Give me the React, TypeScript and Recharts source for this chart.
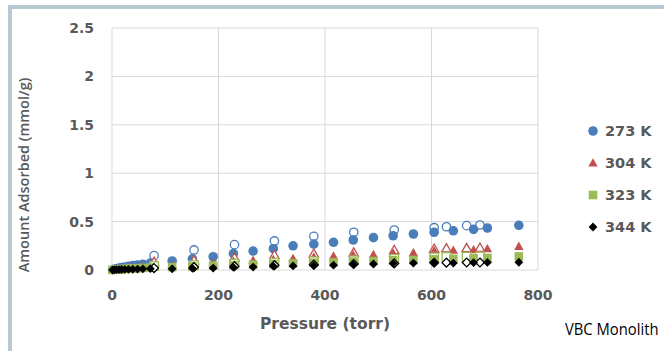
import { ScatterChart, Scatter, XAxis, YAxis, CartesianGrid, Legend, Label } from "recharts";

// adsorption branch (filled markers)
const adsPressure = [1, 4, 8, 13, 18, 24, 31, 39, 48, 58, 72, 113, 151, 190, 228, 265, 303, 340, 379, 416, 453, 491, 528, 566, 605, 641, 679, 705, 764];
const ads273 = [0.003, 0.008, 0.013, 0.019, 0.025, 0.031, 0.038, 0.045, 0.052, 0.06, 0.072, 0.093, 0.115, 0.137, 0.17, 0.196, 0.22, 0.25, 0.268, 0.286, 0.31, 0.334, 0.354, 0.372, 0.39, 0.405, 0.42, 0.434, 0.462];
const ads304 = [0.002, 0.005, 0.008, 0.012, 0.015, 0.018, 0.022, 0.026, 0.03, 0.035, 0.04, 0.05, 0.065, 0.075, 0.09, 0.1, 0.11, 0.12, 0.135, 0.145, 0.155, 0.16, 0.175, 0.18, 0.2, 0.205, 0.21, 0.22, 0.245];
const ads323 = [0.001, 0.003, 0.005, 0.007, 0.009, 0.011, 0.013, 0.015, 0.018, 0.021, 0.025, 0.03, 0.038, 0.045, 0.05, 0.055, 0.062, 0.068, 0.075, 0.08, 0.087, 0.092, 0.1, 0.103, 0.11, 0.115, 0.12, 0.125, 0.14];
const ads344 = [0.001, 0.002, 0.003, 0.004, 0.005, 0.006, 0.007, 0.008, 0.01, 0.012, 0.014, 0.012, 0.017, 0.02, 0.028, 0.03, 0.04, 0.042, 0.045, 0.05, 0.058, 0.062, 0.068, 0.072, 0.075, 0.072, 0.076, 0.078, 0.08];

// desorption branch (open markers)
const desPressure = [79, 154, 230, 305, 379, 454, 530, 605, 628, 666, 691];
const des273 = [0.148, 0.207, 0.262, 0.3, 0.348, 0.39, 0.413, 0.437, 0.447, 0.458, 0.465];
const des304 = [0.085, 0.1, 0.13, 0.155, 0.17, 0.18, 0.207, 0.22, 0.224, 0.226, 0.23];
const des323 = [0.04, 0.05, 0.065, 0.075, 0.09, 0.1, 0.115, 0.13, 0.135, 0.138, 0.14];
const des344 = [0.02, 0.03, 0.04, 0.05, 0.055, 0.062, 0.068, 0.075, 0.076, 0.077, 0.078];

const xTicks = [0, 200, 400, 600, 800];
const yTicks = [0, 0.5, 1, 1.5, 2, 2.5];

const BLUE = "#4a7ebb";
const RED = "#c0504d";
const GREEN = "#9bbb59";
const BLACK = "#000000";
const GRAY = "#595959";
const FONT = "'Open Sans', sans-serif";
const BOLD_FONT = "'DejaVu Sans', sans-serif";

const toPoints = (p: number[], v: number[]) => p.map((x, i) => ({ x, y: v[i] }));

type Kind = "circle" | "triangle" | "square" | "diamond";

const marker = (kind: Kind, color: string, open: boolean) => (props: any) => {
  const { cx, cy } = props;
  const fill = open ? "#ffffff" : color;
  const sw = open ? 1.3 : 0;
  if (kind === "circle") return <circle cx={cx} cy={cy} r={open ? 4.2 : 4.8} fill={fill} stroke={color} strokeWidth={sw} />;
  if (kind === "triangle")
    return <polygon points={`${cx},${cy - 4.7} ${cx + 4.7},${cy + 3.6} ${cx - 4.7},${cy + 3.6}`} fill={fill} stroke={color} strokeWidth={sw} />;
  if (kind === "square") return <rect x={cx - 4.3} y={cy - 4.3} width={8.6} height={8.6} fill={fill} stroke={color} strokeWidth={sw} />;
  return <polygon points={`${cx},${cy - 4.4} ${cx + 4.4},${cy} ${cx},${cy + 4.4} ${cx - 4.4},${cy}`} fill={fill} stroke={color} strokeWidth={sw} />;
};

const legendItems: { label: string; kind: Kind; color: string }[] = [
  { label: "273 K", kind: "circle", color: BLUE },
  { label: "304 K", kind: "triangle", color: RED },
  { label: "323 K", kind: "square", color: GREEN },
  { label: "344 K", kind: "diamond", color: BLACK },
];

const LegendBox = () => (
  <div style={{ fontFamily: BOLD_FONT }}>
    {legendItems.map((it) => (
      <div key={it.label} style={{ display: "flex", alignItems: "center", height: 32 }}>
        <svg width={14} height={14} style={{ marginRight: 5 }}>
          {marker(it.kind, it.color, false)({ cx: 7, cy: 7 })}
        </svg>
        <span style={{ fontSize: 14.5, fontWeight: 700, color: GRAY, whiteSpace: "nowrap" }}>{it.label}</span>
      </div>
    ))}
  </div>
);

export default function App() {
  return (
    <div style={{ position: "fixed", left: 0, top: 0, width: 664, height: 351, overflow: "hidden", background: "#fff" }}>
      <div style={{ position: "absolute", left: 8, top: 5, width: 800, height: 500, borderLeft: "4px solid #b9c9d2", borderTop: "4px solid #b9c9d2" }} />
      <ScatterChart width={664} height={351} margin={{ top: 28, right: 126, bottom: 0, left: 0 }}>
        <CartesianGrid stroke="#d9d9d9" strokeWidth={1} />
        <XAxis
          type="number"
          dataKey="x"
          domain={[0, 800]}
          ticks={xTicks}
          height={81}
          tickLine={false}
          axisLine={false}
          tickSize={0}
          tickMargin={20}
          tick={{ fill: GRAY, fontSize: 14, fontWeight: 700, fontFamily: BOLD_FONT }}
        >
          <Label
            content={({ viewBox }: any) => (
              <text x={viewBox.x + viewBox.width / 2} y={329} textAnchor="middle" fill={GRAY} fontSize={15.5} fontWeight={700} fontFamily={BOLD_FONT}>
                Pressure (torr)
              </text>
            )}
          />
        </XAxis>
        <YAxis
          type="number"
          dataKey="y"
          domain={[0, 2.5]}
          ticks={yTicks}
          width={112}
          tickLine={false}
          axisLine={false}
          tickSize={0}
          tickMargin={18}
          tick={{ fill: GRAY, fontSize: 14, fontWeight: 700, fontFamily: BOLD_FONT }}
        >
          <Label
            content={({ viewBox }: any) => {
              const cx = 23;
              const cy = viewBox.y + viewBox.height / 2 + 26;
              return (
                <text x={cx} y={cy} transform={`rotate(-90 ${cx} ${cy})`} textAnchor="middle" dominantBaseline="central" fill={GRAY} fontSize={14.5} fontWeight={600} fontFamily={FONT}>
                  Amount Adsorbed (mmol/g)
                </text>
              );
            }}
          />
        </YAxis>
        <Legend
          layout="vertical"
          align="center"
          verticalAlign="middle"
          width={80}
          content={() => <LegendBox />}
          wrapperStyle={{ left: 586, top: 115, width: 80 }}
        />
        <Scatter name="273 K des" data={toPoints(desPressure, des273)} shape={marker("circle", BLUE, true)} isAnimationActive={false} legendType="none" />
        <Scatter name="273 K" data={toPoints(adsPressure, ads273)} shape={marker("circle", BLUE, false)} isAnimationActive={false} />
        <Scatter name="304 K des" data={toPoints(desPressure, des304)} shape={marker("triangle", RED, true)} isAnimationActive={false} legendType="none" />
        <Scatter name="304 K" data={toPoints(adsPressure, ads304)} shape={marker("triangle", RED, false)} isAnimationActive={false} />
        <Scatter name="323 K des" data={toPoints(desPressure, des323)} shape={marker("square", GREEN, true)} isAnimationActive={false} legendType="none" />
        <Scatter name="323 K" data={toPoints(adsPressure, ads323)} shape={marker("square", GREEN, false)} isAnimationActive={false} />
        <Scatter name="344 K des" data={toPoints(desPressure, des344)} shape={marker("diamond", BLACK, true)} isAnimationActive={false} legendType="none" />
        <Scatter name="344 K" data={toPoints(adsPressure, ads344)} shape={marker("diamond", BLACK, false)} isAnimationActive={false} />
      </ScatterChart>
      <div
        style={{
          position: "absolute",
          left: 565,
          top: 317,
          fontFamily: FONT,
          fontSize: 17,
          color: "#000",
          whiteSpace: "nowrap",
          transform: "scaleX(0.87)",
          transformOrigin: "left center",
        }}
      >
        VBC Monolith
      </div>
    </div>
  );
}
